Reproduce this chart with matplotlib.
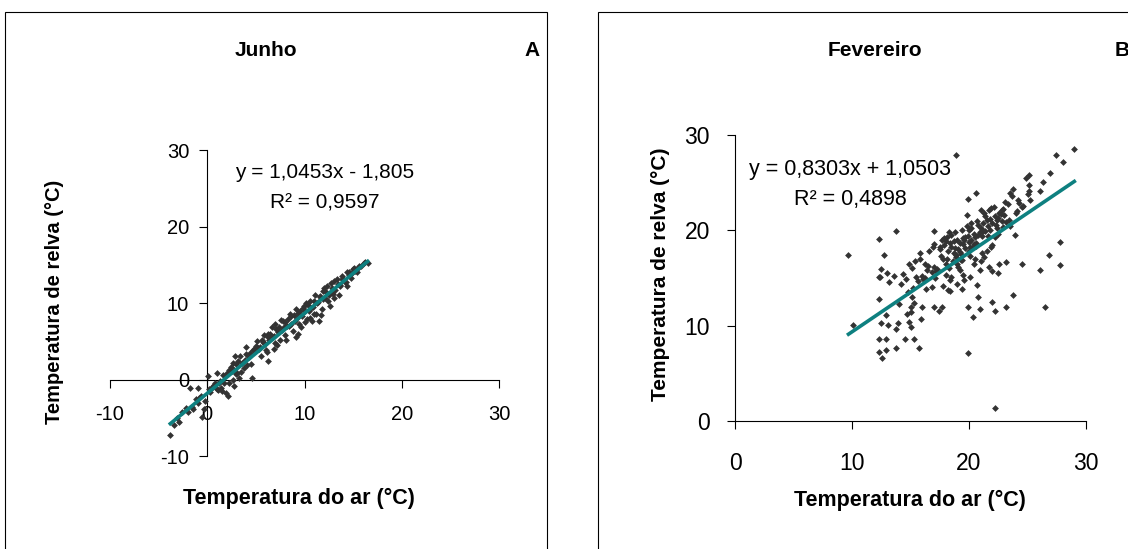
import matplotlib.pyplot as plt
from matplotlib.patches import Rectangle

plt.rcParams['font.family'] = ['Liberation Sans', 'DejaVu Sans']
plt.rcParams['axes.unicode_minus'] = False

# Junho: temperatura do ar (x) / temperatura de relva (y)
junho_ar = [-3.8, -3.4, -2.9, -2.0, -1.8, -1.5, -0.9, -1.0, -0.5, -0.3, 0.1, 0.2, 0.7, 1.0,
            1.1, 1.4, 1.7, 1.9, 2.1, 2.2, 2.6, 2.7, 2.9, 3.1, 3.3, 3.4, 3.8, 4.0, 4.6, 4.8,
            5.1, 5.5, 5.8, 6.2, 6.2, 6.9, 7.0, 7.5, 7.8, 8.2, 8.6, 9.1, 9.3, 9.6, 9.9, 10.3,
            10.6, 11.0, 11.5, 11.6, 11.9, 12.3, 12.7, 13.0, 13.5, 13.9, 14.4, 14.6, 15.1, 15.6,
            16.1, 16.5,
            -2.6, -2.2, -1.2, -0.6, 0.3, 0.8, 1.3, 1.6, 2.0, 2.4, 2.8, 3.2, 3.6, 4.0, 4.3,
            4.7, 5.0, 5.3, 5.6, 5.9, 6.2, 6.5, 6.8, 7.1, 7.4, 7.7, 8.0, 8.3, 8.6, 8.9, 9.2,
            9.5, 9.8, 10.1, 10.4, 10.7, 11.0, 11.3, 11.6, 11.9, 12.2, 12.5, 12.8, 13.1, 13.4,
            13.7, 14.0, 14.3, 14.6, 14.9, 15.2, 15.5, 15.8, 16.2, 10.0, 10.6, 11.2, 11.8, 12.4,
            13.0, 8.0, 8.8, 9.4, 7.0, 6.0, 4.5, 3.5, 2.2, 1.5, 0.5, -0.2, 7.6, 6.7, 5.8, 8.5,
            9.1, 10.2, 11.1, 12.0, 12.7, 13.3, 13.9, 14.4, 15.0,
            -3.1, -1.6, -0.8, 0.6, 1.2, 1.8, 2.5, 3.0, 3.9, 4.4, 5.2, 5.7, 6.4, 6.9, 7.3, 7.9,
            8.4, 9.0, 9.7, 10.5, 10.9, 11.4, 12.1, 12.9, 13.6, 14.2, 14.8, 15.4, 6.1, 7.2,
            8.1, 9.3, 10.8, 11.7, 12.6, 5.4, 4.1, 3.0, 2.6, 1.0]
junho_relva = [-7.3, -6.0, -5.6, -4.3, -1.1, -3.8, -1.1, -3.1, -4.9, -3.8, 0.5, -1.2, -0.7, 0.9,
               -1.4, -1.1, -0.4, -1.8, -2.2, 1.3, 2.1, -0.9, 3.1, 0.9, 0.2, 3.1, 1.5, 4.2, 0.2, 4.0,
               5.0, 3.1, 4.8, 2.4, 5.9, 4.0, 7.2, 5.2, 7.6, 7.0, 8.3, 5.5, 8.7, 6.8, 9.6, 7.9,
               10.3, 8.5, 7.6, 10.9, 11.6, 12.2, 11.4, 12.9, 11.1, 13.2, 12.2, 14.0, 14.6, 14.9,
               15.2, 15.2,
               -4.3, -3.7, -2.6, -2.2, -1.6, -0.5, -0.2, 0.6, 0.9, 1.6, 1.2, 2.4, 2.2, 3.3, 2.9,
               3.9, 4.4, 4.0, 5.1, 4.6, 5.5, 6.0, 5.6, 6.6, 6.9, 6.5, 7.5, 7.9, 7.3, 8.4, 8.1,
               8.9, 9.3, 9.0, 9.8, 9.4, 10.3, 10.0, 10.8, 10.5, 11.4, 11.0, 12.0, 11.7, 12.5,
               12.2, 13.1, 12.8, 13.6, 13.9, 14.2, 14.6, 14.8, 15.3, 7.5, 8.0, 8.6, 9.2, 10.2,
               10.6, 5.8, 6.4, 7.2, 4.8, 3.8, 2.0, 1.0, -0.5, -1.5, -1.0, -2.8, 7.8, 6.9, 5.8, 8.6,
               9.2, 10.0, 11.0, 12.0, 12.6, 13.1, 13.5, 14.0, 14.5,
               -5.0, -3.6, -2.4, -1.0, -0.4, 0.4, 1.1, 2.0, 2.6, 3.4, 4.1, 4.9, 5.2, 5.7, 6.2, 6.9,
               7.0, 7.7, 8.3, 9.0, 9.5, 10.1, 10.7, 11.2, 12.3, 12.7, 13.3, 14.0, 3.6, 4.5,
               5.2, 6.0, 7.6, 8.4, 9.6, 4.3, 1.9, 0.7, -0.1, -1.3]

# Fevereiro
fev_ar = [9.7, 10.1, 12.3, 12.3, 12.3, 12.4, 12.3, 12.3, 12.5, 12.5, 12.6, 12.7, 12.9, 12.9,
          12.9, 13.0, 13.1, 13.8, 13.8, 13.9, 13.8, 14.5, 14.4, 14.6, 14.9, 15.1, 14.9, 15.0,
          15.1, 15.3, 15.0, 15.3, 15.7, 15.5, 15.8, 15.9, 16.0, 16.2, 16.1, 16.4, 16.8, 17.0,
          17.0, 17.0, 17.1, 17.2, 17.4, 17.7, 17.5, 17.7, 17.8, 18.0, 18.1, 18.2, 18.4, 18.5,
          18.7, 18.8, 18.9, 19.0, 19.1, 19.2, 19.4, 19.4, 19.5, 19.7, 19.8, 19.9, 19.9, 19.9,
          20.0, 20.1, 20.1, 20.2, 20.3, 20.4, 20.5, 20.6, 20.7, 20.8, 20.9, 20.9, 21.0, 21.1,
          21.2, 21.3, 21.5, 21.7, 21.7, 21.9, 22.0, 22.0, 22.2, 22.2, 22.2, 22.4, 22.5, 22.6,
          22.8, 22.9, 23.1, 23.2, 23.2, 23.4, 23.5, 23.8, 23.8, 23.9, 24.1, 24.2, 24.5, 24.6,
          25.1, 25.1, 25.1, 25.2, 26.1, 26.1, 26.3, 26.5, 26.8, 26.9, 27.4, 27.8, 27.8, 28.0,
          29.0,
          17.5, 17.9, 18.2, 18.5, 18.7, 18.9, 19.1, 19.3, 19.5, 19.7, 19.9, 20.0, 20.2, 20.4,
          20.6, 20.8, 21.0, 21.2, 21.4, 21.6, 21.8, 22.0, 22.2, 22.4, 22.6, 22.8, 23.0, 23.2,
          18.0, 18.3, 18.6, 19.0, 19.2, 16.5, 16.8, 17.3, 16.0, 15.6, 15.2, 14.8, 15.0, 14.7,
          16.3, 17.8, 18.4, 19.6, 20.5, 21.0, 21.5, 22.0, 22.5, 23.5, 24.0, 24.5, 19.4, 19.8,
          20.2, 20.7, 21.3, 21.9, 20.9, 20.3, 19.0, 18.5, 17.9,
          17.6, 18.1, 18.4, 18.8, 19.2, 19.6, 20.0, 20.4, 20.8, 21.1, 21.4, 21.8, 22.1, 22.5,
          22.9, 23.3, 23.7, 24.3, 24.9, 25.0, 17.0, 16.6, 16.2, 15.4, 14.2, 13.6, 13.2, 14.0,
          15.8, 16.9, 18.3, 19.5, 20.6, 21.6, 22.3, 22.7, 19.3, 18.9, 18.0, 20.1]
fev_relva = [17.4, 10.1, 19.1, 12.8, 15.1, 15.1, 8.6, 7.2, 15.9, 10.3, 6.6, 17.4, 8.6, 7.4,
             11.1, 15.5, 10.1, 19.9, 9.7, 10.3, 7.7, 8.6, 15.4, 14.9, 16.5, 16.0, 10.4, 9.9,
             13.0, 12.4, 11.4, 8.6, 7.7, 15.1, 17.0, 10.7, 12.0, 16.5, 14.9, 15.8, 14.1, 19.9,
             16.2, 12.0, 15.0, 15.7, 11.5, 12.0, 18.3, 19.0, 17.0, 15.3, 19.3, 13.7, 13.6, 15.1,
             17.6, 18.1, 27.9, 14.4, 16.2, 18.7, 16.9, 13.8, 15.3, 19.3, 21.6, 12.0, 7.1, 23.3,
             17.8, 15.1, 18.3, 20.2, 10.9, 16.5, 19.3, 23.9, 14.3, 13.0, 15.8, 11.7, 22.1, 17.6,
             19.9, 17.2, 21.1, 16.2, 22.1, 18.3, 12.5, 15.7, 1.4, 11.5, 19.3, 21.1, 15.5, 16.5,
             22.1, 20.4, 23.0, 16.7, 12.0, 21.1, 23.9, 24.3, 13.2, 19.5, 22.0, 23.2, 16.5, 22.6,
             25.8, 24.8, 24.1, 23.2, 24.1, 15.8, 25.1, 12.0, 17.4, 26.0, 27.9, 18.8, 16.4, 27.2,
             28.5,
             18.0, 18.5, 17.8, 18.3, 18.9, 17.2, 18.0, 17.5, 18.6, 18.1, 19.4, 18.8, 19.0, 19.6,
             18.7, 19.5, 20.2, 20.8, 19.9, 20.5, 21.2, 20.8, 21.5, 20.2, 21.8, 21.0, 21.6, 20.9,
             16.5, 16.0, 16.8, 16.5, 15.8, 16.3, 15.6, 15.9, 15.2, 14.7, 14.0, 13.5, 12.0, 11.2,
             13.8, 14.2, 14.8, 14.8, 17.0, 16.8, 17.8, 18.5, 19.6, 20.5, 21.8, 22.5, 20.0, 20.5,
             20.8, 21.0, 21.8, 22.3, 19.8, 18.2, 19.0, 19.5, 19.2,
             17.3, 17.0, 18.7, 19.8, 17.7, 19.0, 20.0, 18.6, 20.6, 19.4, 21.5, 20.0, 22.5, 21.3,
             22.2, 22.8, 23.6, 22.9, 25.5, 23.8, 18.6, 17.8, 15.0, 16.8, 14.4, 15.2, 14.6, 12.3,
             17.6, 18.2, 19.8, 19.2, 18.4, 19.4, 20.6, 21.7, 16.9, 17.4, 18.9, 17.3]

# linhas de tendência (equações do gráfico)
junho_a, junho_b = 1.0453, -1.805
fev_a, fev_b = 0.8303, 1.0503

W, H = 1128, 549
fig = plt.figure(figsize=(W / 100, H / 100), dpi=100)


def px(x0, y0, x1, y1):
    return [x0 / W, 1 - y1 / H, (x1 - x0) / W, (y1 - y0) / H]


# molduras
fig.patches.append(Rectangle((5 / W, -0.1), 542 / W, 1.1 - 12 / H, transform=fig.transFigure,
                             fill=False, ec='black', lw=0.8))
fig.patches.append(Rectangle((598 / W, -0.1), 0.6, 1.1 - 12 / H, transform=fig.transFigure,
                             fill=False, ec='black', lw=0.8))

dot = '#333333'
teal = '#0e8080'

# ---- A: Junho
ax1 = fig.add_axes(px(110, 150, 499, 456))
ax1.scatter(junho_ar, junho_relva, marker='D', s=12, c=dot, lw=0, zorder=3)
xa = [min(junho_ar), max(junho_ar)]
ax1.plot(xa, [junho_a * v + junho_b for v in xa], c=teal, lw=2.6, zorder=4)
ax1.set_xlim(-10, 30)
ax1.set_ylim(-10, 30)
ax1.spines['left'].set_position(('data', 0))
ax1.spines['bottom'].set_position(('data', 0))
for s in ['top', 'right']:
    ax1.spines[s].set_visible(False)
for s in ['left', 'bottom']:
    ax1.spines[s].set_linewidth(0.8)
ax1.set_xticks([-10, 0, 10, 20, 30])
ax1.set_yticks([-10, 0, 10, 20, 30])
ax1.tick_params(axis='x', direction='out', length=6, width=0.8, pad=12, labelsize=14.5)
ax1.tick_params(axis='y', direction='out', length=6, width=0.8, pad=7, labelsize=14.5)
ax1.patch.set_visible(False)

fig.text(325 / W, 1 - 173 / H, 'y = 1,0453x - 1,805', ha='center', va='center', fontsize=15)
fig.text(325 / W, 1 - 203 / H, 'R² = 0,9597', ha='center', va='center', fontsize=15)
fig.text(266 / W, 1 - 50 / H, 'Junho', ha='center', va='center', fontsize=15, weight='bold')
fig.text(532 / W, 1 - 50 / H, 'A', ha='center', va='center', fontsize=15, weight='bold')
fig.text(299 / W, 1 - 498 / H, 'Temperatura do ar (°C)', ha='center', va='center',
         fontsize=15.5, weight='bold')
fig.text(55 / W, 1 - 302 / H, 'Temperatura de relva (°C)', ha='center', va='center',
         fontsize=14.5, weight='bold', rotation=90)

# ---- B: Fevereiro
ax2 = fig.add_axes(px(735, 135, 1086, 421))
ax2.scatter(fev_ar, fev_relva, marker='D', s=12, c=dot, lw=0, zorder=3)
xb = [min(fev_ar), max(fev_ar)]
ax2.plot(xb, [fev_a * v + fev_b for v in xb], c=teal, lw=2.6, zorder=4)
ax2.set_xlim(0, 30)
ax2.set_ylim(0, 30)
for s in ['top', 'right']:
    ax2.spines[s].set_visible(False)
for s in ['left', 'bottom']:
    ax2.spines[s].set_linewidth(0.8)
ax2.set_xticks([0, 10, 20, 30])
ax2.set_yticks([0, 10, 20, 30])
ax2.tick_params(axis='x', direction='out', length=6, width=0.8, pad=16, labelsize=16.5)
ax2.tick_params(axis='y', direction='out', length=6, width=0.8, pad=12, labelsize=16.5)
ax2.patch.set_visible(False)

fig.text(850 / W, 1 - 170 / H, 'y = 0,8303x + 1,0503', ha='center', va='center', fontsize=15.5)
fig.text(850 / W, 1 - 200 / H, 'R² = 0,4898', ha='center', va='center', fontsize=15.5)
fig.text(875 / W, 1 - 50 / H, 'Fevereiro', ha='center', va='center', fontsize=15, weight='bold')
fig.text(1115 / W, 1 - 50 / H, 'B', ha='left', va='center', fontsize=15, weight='bold')
fig.text(910 / W, 1 - 500 / H, 'Temperatura do ar (°C)', ha='center', va='center',
         fontsize=15.5, weight='bold')
fig.text(660 / W, 1 - 274 / H, 'Temperatura de relva (°C)', ha='center', va='center',
         fontsize=15, weight='bold', rotation=90)

fig.savefig('out.png', dpi=100)
